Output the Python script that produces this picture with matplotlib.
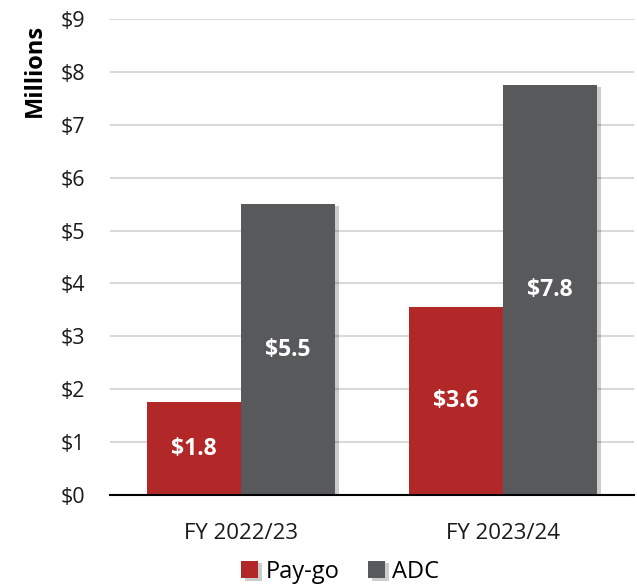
import numpy as np
import matplotlib.pyplot as plt
import matplotlib.patheffects as pe

plt.rcParams['font.family'] = ['Open Sans', 'DejaVu Sans']

years = ['FY 2022/23', 'FY 2023/24']
paygo = [1.75, 3.55]
adc = [5.5, 7.75]
paygo_labels = ['$1.8', '$3.6']
adc_labels = ['$5.5', '$7.8']
yticks = [0, 1, 2, 3, 4, 5, 6, 7, 8, 9]

red = '#b22727'
grey = '#58595b'

fig = plt.figure(figsize=(6.37, 5.85), dpi=100)
ax = fig.add_axes([0.1727, 0.1538, 0.8226, 0.8137])

x = np.arange(len(years))
w = 0.357
shadow = [pe.SimplePatchShadow(offset=(3, -1.5), shadow_rgbFace='#000000', alpha=0.2), pe.Normal()]

b1 = ax.bar(x - w/2, paygo, w, color=red, label='Pay-go', zorder=3)
b2 = ax.bar(x + w/2, adc, w, color=grey, label='ADC', zorder=3)
for bar in list(b1) + list(b2):
    bar.set_path_effects(shadow)

for i in x:
    ax.text(i - w/2, paygo[i]/2, paygo_labels[i], ha='center', va='center',
            color='white', fontsize=16.5, fontweight='bold', zorder=4)
    ax.text(i + w/2, adc[i]/2, adc_labels[i], ha='center', va='center',
            color='white', fontsize=16.5, fontweight='bold', zorder=4)

ax.set_xlim(-0.5, 1.5)
ax.set_ylim(0, 9)
ax.set_yticks(yticks)
ax.set_yticklabels(['$%d' % v for v in yticks])
ax.set_xticks(x)
ax.set_xticklabels(years)
ax.tick_params(axis='both', length=0, labelsize=15.5, colors='#1a1a1a')
ax.tick_params(axis='x', labelsize=16, pad=20)
ax.tick_params(axis='y', pad=18)
ax.grid(axis='y', color='#d9d9d9', linewidth=1.5, zorder=0)
for s in ['top', 'right', 'left']:
    ax.spines[s].set_visible(False)
ax.spines['bottom'].set_linewidth(1.5)
ax.spines['bottom'].set_zorder(5)

fig.text(35/637, 1 - 70/585, 'Millions', rotation=90, ha='center', va='center',
         fontsize=17, fontweight='bold')

ax.legend(loc='center', bbox_to_anchor=((340 - 110)/524, -77/476), ncol=2, frameon=False,
          fontsize=17, handlelength=0.75, handleheight=0.75, handletextpad=0.3,
          columnspacing=1.2, borderaxespad=0)

fig.savefig('out.png', dpi=100)
